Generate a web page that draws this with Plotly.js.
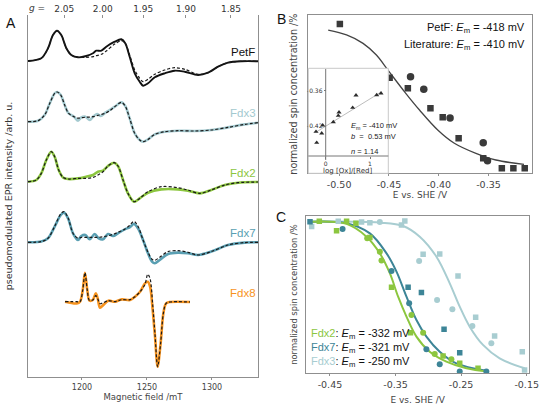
<!DOCTYPE html>
<html><head><meta charset="utf-8">
<script src="https://cdn.plot.ly/plotly-3.0.1.min.js"></script>
<style>html,body{margin:0;padding:0;background:#fff}#chart{width:541px;height:411px}</style>
</head><body><div id="chart"></div>
<script>
// ---------- Panel A: EPR spectra (field in mT, intensity arb. u.) ----------
const petfB   = [1158.5,1168.7,1173.9,1177.7,1180.8,1184.1,1188.0,1191.8,1197.0,1203.3,1208.5,1211.0,1214.9,1218.7,1225.2,1230.3,1233.3,1236.7,1240.6,1244.4,1247.0,1250.8,1256.0,1263.7,1271.2,1279.0,1289.3,1297.0,1304.7,1312.3,1322.6,1335.4];
const petfExp = [0,2.7,12.7,26,30.3,26,12.7,6,3.7,5,7.7,10.3,10.3,14.3,19.3,21.7,17.7,4.3,-12.3,-20.7,-24.7,-22.3,-16.3,-12.3,-9.7,-10.7,-14,-11.7,-5.7,-1.7,-0.3,-0.3];
const petfSim = [0,2.7,12.7,26,30.3,26,12.7,6,3.7,3.7,4.3,5.3,6.7,10,17,20.3,17.7,6,-9,-17.3,-20.7,-18.3,-13.3,-9,-6.7,-8.3,-13.3,-11.7,-5.7,-1.7,-0.3,-0.3];

const fdx3B   = [1158.5,1166.2,1171.3,1175.2,1179.0,1181.0,1183.7,1186.7,1189.8,1193.9,1197.0,1199.5,1202.6,1206.0,1208.5,1211.6,1214.4,1218.0,1221.3,1225.2,1230.3,1233.3,1236.7,1240.6,1244.4,1247.0,1250.8,1256.0,1263.7,1273.9,1286.7,1299.5,1312.3,1325.2,1335.4];
const fdx3Exp = [0,1,6.7,18.3,28.3,29.7,26.7,16.7,8.3,5,1,4.3,5,1.7,5,7.7,5.7,9,11.7,15,19.3,15.7,3.3,-11.7,-18.3,-20,-17.7,-12.7,-10,-9,-9.3,-8.3,-5.7,-2.7,-1];
const fdx3Sim = [0,1,6.7,18.3,28.3,29.7,26.7,16.7,8.3,5,3.5,4,4.5,4.5,5,6,7,8.5,11,15,19.3,15.7,3.3,-11.7,-18.3,-20,-17.7,-12.7,-10,-9,-9.3,-8.3,-5.7,-2.7,-1];

const fdx2B   = [1158.5,1164.9,1168.7,1172.6,1176.4,1179.0,1182.1,1185.4,1189.3,1197.0,1203.3,1208.5,1212.3,1216.2,1220.0,1224.7,1227.7,1231.6,1235.4,1240.0,1244.4,1250.8,1261.0,1273.9,1281.6,1290.6,1299.5,1309.8,1320.0,1335.4];
const fdx2Exp = [0,1.7,8.3,21.7,30,25,11.7,4.3,2.7,3.3,5,6.7,10,11,15.7,19,15.7,1.7,-11.7,-20,-16.7,-11,-7.7,-7.7,-9,-11.7,-8.3,-3.3,-1,-0.3];
const fdx2Sim = [0,1.7,8.3,21.7,30,25,11.7,4.3,2.7,3.3,3.3,4.3,6.7,10,15.7,19,15.7,1.7,-11.7,-20,-16.7,-10,-5,-6,-8.5,-11.7,-8.3,-3.3,-1,-0.3];

const fdx7B   = [1158.5,1168.7,1173.9,1179.0,1183.7,1186.2,1189.3,1193.1,1197.0,1199.5,1202.6,1206.0,1209.8,1212.9,1216.2,1220.0,1223.9,1227.7,1232.9,1236.7,1240.0,1243.1,1247.0,1250.8,1253.9,1256.0,1259.8,1266.2,1273.9,1281.6,1289.3,1299.5,1312.3,1325.2,1335.4];
const fdx7Exp = [0,0.7,4,15.7,27.3,29.7,24,9,2.3,6.3,7.3,3,8.3,4,3,8.3,6.3,9,13,15,18.3,14,2.3,-11,-19.3,-21,-17.7,-11.7,-10.3,-11,-12.7,-9.3,-2.7,-0.3,0];
const fdx7Sim = [0,0.7,4,16,28.5,30.7,24.5,9,4,5,5,5,5,5,5.5,6.5,8,10,13,17,21,16,2.3,-10,-17,-18,-15,-9.3,-8.3,-10,-12.7,-9.3,-2.7,-0.3,0];

const fdx8B   = [1187.0,1196.0,1198.5,1200.6,1202.3,1204.1,1205.7,1208.3,1210.6,1212.1,1213.9,1216.4,1220.3,1225.4,1230.6,1237.0,1240.8,1244.7,1248.5,1250.6,1252.4,1254.4,1256.2,1258.2,1260.5,1262.6,1264.7,1267.7,1283.1];
const fdx8Exp = [0,-1.7,0,11.7,29,11.7,1.3,1.7,8.3,3.3,-6,-3.3,1,0,2.3,1.7,5,10,18.3,20,15,-8.3,-35,-65,-41.7,-11.7,-1.7,-0.3,-0.3];
const fdx8Sim = [0,0,0,11.7,29,11.7,1.3,1.7,6,3,-2,-1,1,0,2,2,5,10,17.5,27.5,23,-3,-33,-65,-41.7,-11.7,-1.7,-0.3,-0.3];

const specNames   = ['PetF','Fdx3','Fdx2','Fdx7','Fdx8'];
const specOffsets = [0,-60.7,-120.7,-181.3,-240.7];
const gLabels = ['2.05','2.00','1.95','1.90','1.85'];
const gValues = [2.05,2.00,1.95,1.90,1.85];
const gTimesB = 2432; // h*nu/muB in mT (Q-band)
const fieldTicks = [1200,1250,1300];

// ---------- Panel B: PetF redox titration ----------
const bSqE = [-0.4993,-0.4493,-0.431,-0.4083,-0.396,-0.380,-0.3553,-0.3366,-0.325,-0.3136];
const bSqY = [94.3,60.4,53.7,41.1,35.4,22.1,9.5,3.2,3.2,3.2];
const bCiE = [-0.4283,-0.415,-0.3886,-0.3553,-0.351];
const bCiY = [61.0,53.1,34.9,19.3,8.0];
const bFitE = [-0.511,-0.4926,-0.476,-0.4626,-0.451,-0.4343,-0.4193,-0.401,-0.3843,-0.3626,-0.3426,-0.3143];
const bFitY = [90.5,87.4,82.1,74.7,65.2,51.5,40.0,27.4,19.0,12.6,8.4,5.7];
const bTicks = [-0.50,-0.45,-0.40,-0.35];
const bTickText = ['-0.50','-0.45','-0.40','-0.35'];

// inset: Nernst plot
const insX = [-0.219,-0.203,-0.090,-0.068,0.172,0.284,0.300,0.609,0.684,1.151,1.248];
const insY = [-0.4297,-0.4484,-0.4324,-0.4188,-0.4132,-0.4025,-0.3967,-0.3889,-0.3678,-0.3673,-0.3644];
const insFitX = [-0.203,1.263];
const insFitY = [-0.4297,-0.3617];
const insYTicks = [-0.36,-0.42];
const insYTickText = ['-0.36','-0.42'];
const insXTicks = [0,1];

// ---------- Panel C: Fdx2, Fdx7, Fdx3 titrations ----------
const c2SqE = [-0.4662,-0.4399,-0.4246,-0.4104,-0.3891,-0.3561,-0.3272,-0.2775,-0.2521,-0.2242];
const c2SqY = [96.4,90.5,96.4,95.2,86.1,54.6,25.8,11.0,6.3,3.2];
const c2CiE = [-0.3932,-0.3739,-0.3714,-0.3257,-0.3079,-0.2902,-0.2648];
const c2CiY = [85.7,77.2,71.5,37.0,25.8,12.3,8.9];
const c2FitE = [-0.4779,-0.4246,-0.3942,-0.3739,-0.3587,-0.3460,-0.3333,-0.3181,-0.2978,-0.2724,-0.2420,-0.2090];
const c2FitY = [96.2,94.8,86.7,76.1,63.5,48.6,36.0,23.3,13.7,7.4,3.2,1.1];

const c7SqE = [-0.4804,-0.3308,-0.3105,-0.2760,-0.2521];
const c7SqY = [96.2,54.6,51.2,27.9,13.1];
const c7CiE = [-0.4307,-0.3561,-0.3292,-0.3029,-0.2826,-0.2521,-0.2115];
const c7CiY = [91.6,64.9,44.4,15.2,5.7,1.1,1.1];
const c7FitE = [-0.4779,-0.4246,-0.3891,-0.3637,-0.3485,-0.3333,-0.3181,-0.3029,-0.2826,-0.2572,-0.2115];
const c7FitY = [96.2,95.2,88.8,76.1,64.5,48.6,33.8,23.3,13.7,6.3,1.7];

const c3SqE = [-0.4779,-0.4373,-0.4018,-0.3891,-0.3409,-0.3358,-0.3079,-0.2826,-0.2547,-0.2278,-0.1989,-0.1567,-0.1532];
const c3SqY = [93.1,96.4,96.0,95.6,94.1,96.7,75.5,75.7,61.8,35.5,23.7,13.7,2.1];
const c3CiE = [-0.3739,-0.3140,-0.2866,-0.2633,-0.2328,-0.2039];
const c3CiY = [96.0,71.3,46.5,40.6,30.0,19.0];
const c3FitE = [-0.4779,-0.3739,-0.3384,-0.3130,-0.2876,-0.2673,-0.2521,-0.2369,-0.2166,-0.1912,-0.1532];
const c3FitY = [96.2,95.6,93.5,86.7,74.0,57.1,42.3,29.6,18.0,9.5,3.2];
const cTicks = [-0.45,-0.35,-0.25,-0.15];
const cTickText = ['-0.45','-0.35','-0.25','-0.15'];
const cEm = ['-332','-321','-250'];

// ---------- styling ----------
const W = 541, H = 411;
const PX = x => x / W, PY = y => 1 - y / H;
const colA = {PetF:'#111111', Fdx3:'#a3c9cf', Fdx2:'#8cc63f', Fdx7:'#5a9fb2', Fdx8:'#f7931e'};
const colC = {Fdx2:'#8cc63f', Fdx7:'#3d8597', Fdx3:'#a8cdd1'};
const frame = '#8f8f8f';
const TF = 'DejaVu Sans', AF = 'Liberation Sans, Arial, sans-serif';

const specB = [petfB, fdx3B, fdx2B, fdx7B, fdx8B];
const specE = [petfExp, fdx3Exp, fdx2Exp, fdx7Exp, fdx8Exp];
const specS = [petfSim, fdx3Sim, fdx2Sim, fdx7Sim, fdx8Sim];

const traces = [];
specNames.forEach((n, i) => {
  const off = specOffsets[i];
  traces.push({x: specB[i], y: specE[i].map(v => v + off), type:'scatter', mode:'lines',
    line:{color: colA[n], width: n === 'PetF' ? 1.9 : 2.6, shape:'spline', smoothing:0.9},
    xaxis:'x', yaxis:'y', hoverinfo:'skip'});
  traces.push({x: specB[i], y: specS[i].map(v => v + off), type:'scatter', mode:'lines',
    line:{color:'#1a1a1a', width:1.2, dash:'3px,2px', shape:'spline', smoothing:0.9},
    xaxis:'x', yaxis:'y', hoverinfo:'skip'});
});
// carrier for the top g-axis
traces.push({x:[petfB[0]], y:[specOffsets[0]], mode:'markers', marker:{opacity:0}, xaxis:'x2', yaxis:'y', hoverinfo:'skip'});

// Panel B
traces.push({x:bFitE, y:bFitY, mode:'lines', line:{color:'#444', width:1.3, shape:'spline'}, xaxis:'x3', yaxis:'y3', hoverinfo:'skip'});
traces.push({x:bSqE, y:bSqY, mode:'markers', marker:{symbol:'square', size:6.5, color:'#3a3a3a'}, xaxis:'x3', yaxis:'y3', hoverinfo:'skip'});
traces.push({x:bCiE, y:bCiY, mode:'markers', marker:{symbol:'circle', size:7.5, color:'#3a3a3a'}, xaxis:'x3', yaxis:'y3', hoverinfo:'skip'});
// inset
traces.push({x:insFitX, y:insFitY, mode:'lines', line:{color:'#bdbdbd', width:1}, xaxis:'x4', yaxis:'y4', hoverinfo:'skip'});
traces.push({x:insX, y:insY, mode:'markers', marker:{symbol:'triangle-up', size:4.5, color:'#2b2b2b'}, xaxis:'x4', yaxis:'y4', hoverinfo:'skip'});

// Panel C
[[c3FitE,c3FitY,'Fdx3'],[c7FitE,c7FitY,'Fdx7'],[c2FitE,c2FitY,'Fdx2']].forEach(([e,y,n]) => {
  traces.push({x:e, y:y, mode:'lines', line:{color:colC[n], width:2, shape:'spline'}, xaxis:'x5', yaxis:'y5', hoverinfo:'skip'});
});
[[c3SqE,c3SqY,c3CiE,c3CiY,'Fdx3'],[c7SqE,c7SqY,c7CiE,c7CiY,'Fdx7'],[c2SqE,c2SqY,c2CiE,c2CiY,'Fdx2']].forEach(([se,sy,ce,cy,n]) => {
  traces.push({x:se, y:sy, mode:'markers', marker:{symbol:'square', size:5.5, color:colC[n]}, xaxis:'x5', yaxis:'y5', hoverinfo:'skip'});
  traces.push({x:ce, y:cy, mode:'markers', marker:{symbol:'circle', size:6, color:colC[n]}, xaxis:'x5', yaxis:'y5', hoverinfo:'skip'});
});

const fieldRange = [1158.5, 1335.4];
const ann = [];
const A = (text, x, y, o) => ann.push(Object.assign({text, x:PX(x), y:PY(y), xref:'paper', yref:'paper', showarrow:false,
  xanchor:'center', yanchor:'middle', font:{family:AF, size:11, color:'#111'}}, o || {}));

A('A', 11, 23, {font:{family:AF, size:14, color:'#111'}});
A('B', 281, 19, {font:{family:AF, size:14, color:'#111'}});
A('C', 281, 217, {font:{family:AF, size:14, color:'#111'}});
A('<i>g</i> =', 47, 8, {xanchor:'right', font:{family:TF, size:9, color:'#333'}});

specNames.forEach((n, i) => {
  ann.push({text:n, x:1324, y:specOffsets[i] + 9, xref:'x', yref:'y', showarrow:false,
    xanchor:'center', yanchor:'middle', font:{family:AF, size:11.5, color: n === 'PetF' ? '#111' : colA[n]}});
});

A('PetF: <i>E</i><sub>m</sub> = -418 mV', 527, 28, {xanchor:'right'});
A('Literature: <i>E</i><sub>m</sub> = -410 mV', 527, 45, {xanchor:'right'});
A('<i>E</i><sub>m</sub> = -410 mV', 349, 126, {xanchor:'left', font:{family:AF, size:7.5, color:'#222'}});
A('<i>b</i>  =  0.53 mV', 349, 137, {xanchor:'left', font:{family:AF, size:7.5, color:'#222'}});
A('<i>n</i> = 1.14', 349, 151, {xanchor:'left', font:{family:AF, size:7.5, color:'#222'}});
A('log [Ox]/[Red]', 347, 170.5, {font:{family:TF, size:7, color:'#333'}});

['Fdx2','Fdx7','Fdx3'].forEach((n, i) => {
  A('<span style="color:' + colC[n] + '">' + n + '</span>: <i>E</i><sub>m</sub> = ' + cEm[i] + ' mV', 309, 334 + i * 14.2, {xanchor:'left'});
});

const shapes = [
  {type:'rect', xref:'paper', yref:'paper', x0:PX(308.3), x1:PX(388.3), y0:PY(173.3), y1:PY(68.3), line:{color:'#c9c9c9', width:1}, layer:'above'},
  {type:'line', xref:'paper', yref:'paper', x0:PX(308.3), x1:PX(388.3), y0:PY(156), y1:PY(156), line:{color:'#777', width:1}, layer:'above'},
  {type:'line', xref:'paper', yref:'paper', x0:PX(325.7), x1:PX(325.7), y0:PY(160), y1:PY(69), line:{color:'#777', width:1}, layer:'above'}
];

const baseAxis = {showgrid:false, zeroline:false, showline:true, linecolor:frame, linewidth:1, mirror:true};

const layout = {
  width:W, height:H, margin:{l:0, r:0, t:0, b:0}, paper_bgcolor:'#fff', plot_bgcolor:'#fff',
  showlegend:false, font:{family:TF, color:'#333'},
  xaxis: Object.assign({}, baseAxis, {domain:[PX(28), PX(258)], anchor:'y', range:fieldRange, mirror:false,
    tickvals:fieldTicks, ticks:'outside', ticklen:2, tickcolor:frame, tickfont:{family:TF, size:8, color:'#444'},
    title:{text:'Magnetic field /mT', font:{family:TF, size:8.5, color:'#444'}, standoff:3}}),
  xaxis2: {overlaying:'x', anchor:'y', side:'top', range:fieldRange, showgrid:false, zeroline:false, showline:false,
    tickvals:gValues.map(g => gTimesB / g), ticktext:gLabels, ticks:'inside', ticklen:3, tickcolor:frame,
    tickfont:{family:TF, size:9, color:'#333'}},
  yaxis: Object.assign({}, baseAxis, {domain:[PY(377), PY(15)], anchor:'x', range:[-316, 46],
    showticklabels:false, ticks:'',
    title:{text:'pseudomodulated EPR intensity /arb. u.', font:{family:TF, size:9.5, color:'#333'}, standoff:12}}),
  xaxis3: Object.assign({}, baseAxis, {domain:[PX(308.3), PX(531.7)], anchor:'y3', range:[-0.531, -0.3066],
    tickvals:bTicks, ticktext:bTickText, ticks:'outside', ticklen:2, tickcolor:frame,
    tickfont:{family:TF, size:9.5, color:'#444'},
    title:{text:'E vs. SHE /V', font:{family:TF, size:9, color:'#444'}, standoff:1}}),
  yaxis3: Object.assign({}, baseAxis, {domain:[PY(173.3), PY(15)], anchor:'x3', range:[0, 100],
    showticklabels:false, ticks:'',
    title:{text:'normalized spin concentration /%', font:{family:TF, size:9.6, color:'#444'}, standoff:7}}),
  xaxis4: {domain:[PX(308.3), PX(388.3)], anchor:'free', position:PY(156), range:[-0.393, 1.413],
    showgrid:false, zeroline:false, showline:false, tickvals:insXTicks, ticks:'outside', ticklen:2, tickcolor:'#777',
    tickfont:{family:TF, size:6, color:'#333'}},
  yaxis4: {domain:[PY(173.3), PY(68.3)], anchor:'free', position:PX(325.7), range:[-0.5004, -0.3219],
    showgrid:false, zeroline:false, showline:false, tickvals:insYTicks, ticktext:insYTickText, ticks:'outside', ticklen:2,
    tickcolor:'#777', tickfont:{family:TF, size:6, color:'#333'}},
  xaxis5: Object.assign({}, baseAxis, {domain:[PX(306), PX(529.3)], anchor:'y5', range:[-0.4865, -0.146],
    tickvals:cTicks, ticktext:cTickText, ticks:'outside', ticklen:2, tickcolor:frame,
    tickfont:{family:TF, size:9.5, color:'#444'},
    title:{text:'E vs. SHE /V', font:{family:TF, size:9, color:'#444'}, standoff:7}}),
  yaxis5: Object.assign({}, baseAxis, {domain:[PY(373.3), PY(215.7)], anchor:'x5', range:[0, 100],
    showticklabels:false, ticks:'',
    title:{text:'normalized spin concentration /%', font:{family:TF, size:8.4, color:'#444'}, standoff:6}}),
  annotations: ann, shapes: shapes
};

Plotly.newPlot('chart', traces, layout, {staticPlot:true, displayModeBar:false});
</script></body></html>
